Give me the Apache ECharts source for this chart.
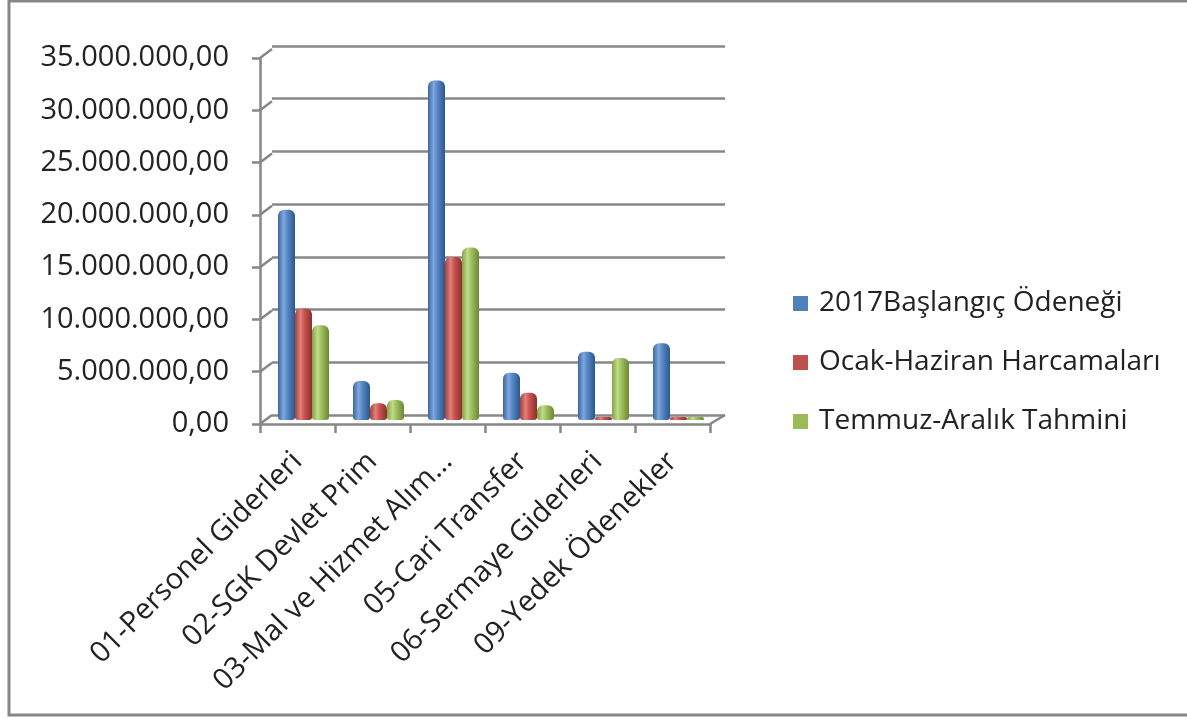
<!DOCTYPE html>
<html>
<head>
<meta charset="utf-8">
<script src="https://cdn.jsdelivr.net/npm/echarts@6/dist/echarts.min.js"></script>
<style>
html,body{margin:0;padding:0;background:#fff;}
#c{width:1187px;height:718px;}
</style>
</head>
<body>
<div id="c"></div>
<script>
const categories = ["01-Personel Giderleri","02-SGK Devlet Prim","03-Mal ve Hizmet Alım…","05-Cari Transfer","06-Sermaye Giderleri","09-Yedek Ödenekler"];
const seriesNames = ["2017Başlangıç Ödeneği","Ocak-Haziran Harcamaları","Temmuz-Aralık Tahmini"];
const baslangic = [20000000, 3700000, 32300000, 4500000, 6500000, 7300000];
const ocakHaziran = [10600000, 1600000, 15500000, 2600000, 80000, 50000];
const temmuzAralik = [9000000, 1900000, 16400000, 1400000, 5900000, 30000];
const yTicks = [0, 5000000, 10000000, 15000000, 20000000, 25000000, 30000000, 35000000];

const FONT = "'Open Sans'";
const FS = 29;
const LFS = 28;
const GRAY = '#878787';
const TXT = '#222222';
const baseColors = ['#4F81BD', '#C0504D', '#9BBB59'];
const gradStops = [
  ['#3A67A1', '#7FA7DC', '#5687C6', '#2C5789'],
  ['#A63F3C', '#E1807C', '#C9534F', '#8A302E'],
  ['#84A345', '#C0DB8A', '#9FC05C', '#6B8735']
];
function grad(i){
  const s = gradStops[i];
  return {type:'linear', x:0, y:0, x2:1, y2:0, colorStops:[
    {offset:0, color:s[0]}, {offset:0.33, color:s[1]}, {offset:0.55, color:s[2]}, {offset:1, color:s[3]}
  ]};
}
function fmt(v){
  const s = Math.round(v).toString().replace(/\B(?=(\d{3})+(?!\d))/g, '.');
  return s + ',00';
}
const yRange = {type:'value', min:0, max:35000000, interval:5000000};
const values = [baslangic, ocakHaziran, temmuzAralik];

const chart = echarts.init(document.getElementById('c'), null, {renderer:'canvas'});
chart.setOption({
  animation:false,
  backgroundColor:'#fff',
  textStyle:{fontFamily:FONT},
  graphic:[{type:'rect', shape:{x:9, y:1, width:1200, height:714}, style:{fill:'none', stroke:GRAY, lineWidth:3}, silent:true, z:-1}],
  grid:[
    {left:272, top:46, width:453, height:369},
    {left:260, top:58, width:450, height:366},
    {left:266, top:52, width:450, height:368}
  ],
  xAxis:[
    {gridIndex:0, type:'category', data:categories, show:false},
    {gridIndex:1, type:'category', data:categories,
      axisLine:{show:true, lineStyle:{color:GRAY, width:2.5}},
      axisTick:{show:true, length:9, interval:0, lineStyle:{color:GRAY, width:2.5}},
      axisLabel:{interval:0, rotate:45, margin:33, color:TXT, fontSize:FS, fontFamily:FONT}},
    {gridIndex:2, type:'category', data:categories, show:false}
  ],
  yAxis:[
    Object.assign({gridIndex:0, axisLabel:{show:false}, axisLine:{show:false}, axisTick:{show:false},
      splitLine:{show:true, lineStyle:{color:GRAY, width:2.5}}}, yRange),
    Object.assign({gridIndex:1, axisLine:{show:true, lineStyle:{color:GRAY, width:2.5}},
      axisTick:{show:true, length:8, lineStyle:{color:GRAY, width:2.5}},
      splitLine:{show:false},
      axisLabel:{formatter:fmt, margin:31, color:TXT, fontSize:FS, fontFamily:FONT}}, yRange),
    Object.assign({gridIndex:2, show:false, splitLine:{show:false}}, yRange)
  ],
  legend:{
    orient:'vertical', left:788, top:283, itemWidth:15, itemHeight:15, itemGap:28, icon:'rect',
    textStyle:{fontSize:LFS, fontFamily:FONT, color:TXT, lineHeight:31, padding:[0,0,0,6]},
    data: seriesNames.map((n,i)=>({name:n, itemStyle:{color:baseColors[i]}}))
  },
  series:[
    {type:'custom', xAxisIndex:1, yAxisIndex:1, silent:true, z:1,
      data: yTicks.map(v=>[0, v]),
      encode:{x:0, y:1},
      renderItem:function(params, api){
        const p = api.coord([0, api.value(1)]);
        const x0 = params.coordSys.x;
        const y0 = p[1];
        const children = [{type:'line', shape:{x1:x0, y1:y0, x2:x0+12, y2:y0-9}, style:{stroke:GRAY, lineWidth:2.5}}];
        if (api.value(1) === 0) {
          const x1 = x0 + params.coordSys.width;
          children.push({type:'line', shape:{x1:x1, y1:y0, x2:x1+15, y2:y0-9}, style:{stroke:GRAY, lineWidth:2.5}});
        }
        return {type:'group', children:children};
      }
    }
  ].concat(seriesNames.map((n,i)=>({
    name:n, type:'bar', xAxisIndex:2, yAxisIndex:2, barWidth:17, barGap:'0%', barMinHeight:3, z:3,
    itemStyle:{color:grad(i), borderRadius:[6,6,3,3]},
    data:values[i]
  })))
});
</script>
</body>
</html>
